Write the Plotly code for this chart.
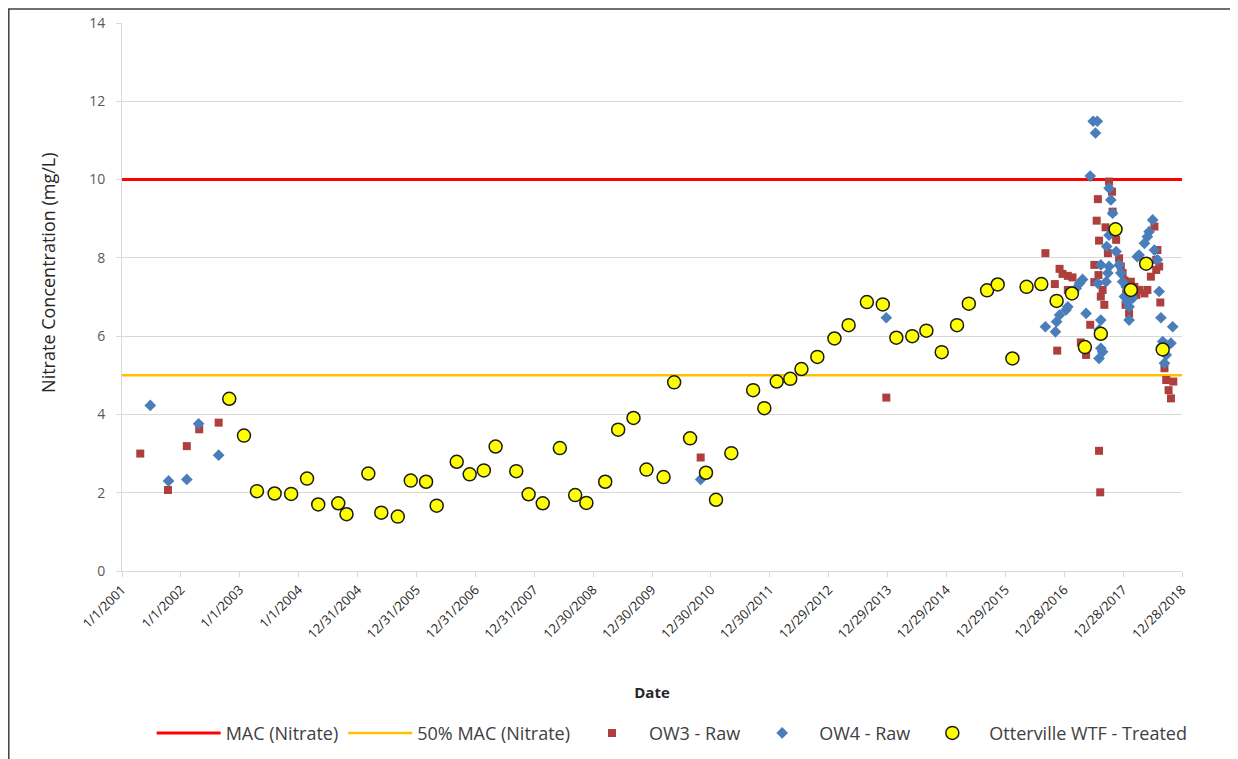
import pandas as pd
import plotly.graph_objects as go

# ---------------- data ----------------
MAC_VALUE = 10.0
HALF_MAC_VALUE = 5.0

tick_dates = ["2001-01-01", "2002-01-01", "2003-01-01", "2004-01-01", "2004-12-31",
              "2005-12-31", "2006-12-31", "2007-12-31", "2008-12-30", "2009-12-30",
              "2010-12-30", "2011-12-30", "2012-12-29", "2013-12-29", "2014-12-29",
              "2015-12-29", "2016-12-28", "2017-12-28", "2018-12-28"]
tick_labels = ["1/1/2001", "1/1/2002", "1/1/2003", "1/1/2004", "12/31/2004",
               "12/31/2005", "12/31/2006", "12/31/2007", "12/30/2008", "12/30/2009",
               "12/30/2010", "12/30/2011", "12/29/2012", "12/29/2013", "12/29/2014",
               "12/29/2015", "12/28/2016", "12/28/2017", "12/28/2018"]

# sample times as decimal years
ow3_year = [2001.31, 2001.78, 2002.10, 2002.31, 2002.64, 2010.82, 2013.97,
            2016.67, 2016.83, 2016.87, 2016.91, 2016.96, 2017.05, 2017.13, 2017.05,
            2017.27, 2017.36, 2017.43, 2017.50, 2017.50, 2017.54, 2017.56, 2017.58,
            2017.58, 2017.60, 2017.61, 2017.64, 2017.57, 2017.67, 2017.69, 2017.73,
            2017.75, 2017.80, 2017.81, 2017.87, 2017.92, 2017.95, 2017.98, 2018.01,
            2018.03, 2018.04, 2018.09, 2018.12, 2018.18, 2018.21, 2018.26, 2018.35,
            2018.40, 2018.46, 2018.52, 2018.55, 2018.55, 2018.57, 2018.60, 2018.62,
            2018.69, 2018.72, 2018.76, 2018.80, 2018.84]
ow3_value = [3.00, 2.07, 3.19, 3.62, 3.79, 2.90, 4.43,
             8.12, 7.33, 5.63, 7.72, 7.59, 7.54, 7.50, 7.18,
             5.84, 5.52, 6.29, 7.82, 7.38, 8.95, 9.50, 8.44,
             3.07, 2.01, 7.01, 7.18, 7.56, 6.80, 8.78, 8.12,
             9.95, 9.69, 9.18, 8.46, 7.99, 7.78, 7.61, 7.42,
             6.80, 7.09, 6.58, 7.39, 7.26, 7.05, 7.18, 7.09,
             7.18, 7.52, 8.80, 7.69, 7.95, 8.20, 7.78, 6.86,
             5.18, 4.88, 4.62, 4.41, 4.84]

ow4_year = [2001.48, 2001.79, 2002.10, 2002.30, 2002.64, 2010.82, 2013.97,
            2016.67, 2016.84, 2016.86, 2016.91, 2017.02, 2017.05, 2017.19, 2017.25,
            2017.30, 2017.36, 2017.43, 2017.48, 2017.52, 2017.55, 2017.56, 2017.58,
            2017.58, 2017.61, 2017.61, 2017.61, 2017.64, 2017.70, 2017.71, 2017.73,
            2017.75, 2017.75, 2017.75, 2017.78, 2017.81, 2017.87, 2017.92, 2017.95,
            2017.98, 2018.01, 2018.04, 2018.06, 2018.09, 2018.09, 2018.15, 2018.23,
            2018.26, 2018.35, 2018.40, 2018.43, 2018.49, 2018.52, 2018.57, 2018.60,
            2018.63, 2018.66, 2018.69, 2018.72, 2018.72, 2018.80, 2018.83]
ow4_value = [4.23, 2.30, 2.34, 3.76, 2.96, 2.34, 6.47,
             6.24, 6.11, 6.37, 6.54, 6.67, 6.75, 7.22, 7.35,
             7.45, 6.58, 10.09, 11.49, 11.19, 11.49, 7.35, 6.16,
             5.43, 7.82, 6.41, 5.69, 5.60, 7.39, 8.29, 7.61,
             9.78, 8.58, 7.78, 9.48, 9.14, 8.16, 7.82, 7.61,
             7.39, 7.01, 7.26, 6.88, 6.75, 6.41, 6.97, 8.03,
             8.07, 8.37, 8.54, 8.67, 8.97, 8.20, 7.95, 7.14,
             6.47, 5.86, 5.31, 5.77, 5.52, 5.82, 6.24]

wtf_year = [2002.82, 2003.07, 2003.29, 2003.59, 2003.87, 2004.14, 2004.33, 2004.67,
            2004.81, 2005.18, 2005.40, 2005.68, 2005.90, 2006.16, 2006.34, 2006.68,
            2006.90, 2007.14, 2007.34, 2007.69, 2007.90, 2008.14, 2008.43, 2008.69,
            2008.88, 2009.20, 2009.42, 2009.68, 2009.90, 2010.19, 2010.37, 2010.64,
            2010.91, 2011.08, 2011.34, 2011.71, 2011.90, 2012.11, 2012.34, 2012.53,
            2012.80, 2013.09, 2013.33, 2013.64, 2013.91, 2014.14, 2014.41, 2014.65,
            2014.91, 2015.17, 2015.37, 2015.68, 2015.86, 2016.11, 2016.35, 2016.60,
            2016.86, 2017.12, 2017.34, 2017.61, 2017.86, 2018.12, 2018.38, 2018.66]
wtf_value = [4.40, 3.46, 2.04, 1.98, 1.97, 2.36, 1.70, 1.73,
             1.45, 2.49, 1.49, 1.39, 2.31, 2.28, 1.67, 2.79,
             2.47, 2.57, 3.18, 2.55, 1.96, 1.73, 3.14, 1.94,
             1.74, 2.28, 3.61, 3.91, 2.59, 2.40, 4.82, 3.39,
             2.51, 1.82, 3.01, 4.62, 4.16, 4.84, 4.91, 5.16,
             5.47, 5.94, 6.28, 6.87, 6.81, 5.96, 6.00, 6.14,
             5.59, 6.28, 6.83, 7.17, 7.32, 5.43, 7.26, 7.33,
             6.90, 7.09, 5.72, 6.06, 8.73, 7.18, 7.85, 5.66]


def to_dates(years):
    base = pd.Timestamp("2001-01-01")
    return [base + pd.Timedelta(days=(y - 2001.0) * 365.25) for y in years]


x_start, x_end = tick_dates[0], tick_dates[-1]
FONT = "'Open Sans', Lato, 'Liberation Sans', sans-serif"

fig = go.Figure()
fig.add_trace(go.Scatter(x=[x_start, x_end], y=[MAC_VALUE, MAC_VALUE], mode="lines",
                         name="MAC (Nitrate)", line=dict(color="#FF0000", width=3)))
fig.add_trace(go.Scatter(x=[x_start, x_end], y=[HALF_MAC_VALUE, HALF_MAC_VALUE], mode="lines",
                         name="50% MAC (Nitrate)", line=dict(color="#FFC000", width=2.5)))
fig.add_trace(go.Scatter(x=to_dates(ow3_year), y=ow3_value, mode="markers", name="OW3 - Raw",
                         marker=dict(symbol="square", size=8, color="#AE3F3C")))
fig.add_trace(go.Scatter(x=to_dates(ow4_year), y=ow4_value, mode="markers", name="OW4 - Raw",
                         marker=dict(symbol="diamond", size=9, color="#4A7EBB")))
fig.add_trace(go.Scatter(x=to_dates(wtf_year), y=wtf_value, mode="markers",
                         name="Otterville WTF - Treated",
                         marker=dict(symbol="circle", size=13, color="#FFFF00",
                                     line=dict(color="#1a1a1a", width=1.5))))

fig.update_layout(
    width=1238, height=759,
    margin=dict(l=114, r=64, t=15, b=196),
    paper_bgcolor="white", plot_bgcolor="white",
    font=dict(family=FONT, color="#404040"),
    showlegend=True,
    legend=dict(orientation="h", x=0.519, xanchor="center", y=-0.296, yanchor="middle",
                itemwidth=64, font=dict(size=18, color="#404040"), itemclick=False),
    xaxis=dict(
        type="date", range=[x_start, x_end], automargin=False,
        tickvals=tick_dates, ticktext=tick_labels, tickangle=-45,
        tickfont=dict(size=13, color="#262626"),
        showgrid=False, showline=True, linecolor="#D9D9D9", linewidth=1,
        ticks="outside", ticklen=5, tickcolor="#D9D9D9", zeroline=False,
        title=dict(text="<b>Date</b>", font=dict(size=15, color="#262626"), standoff=46),
    ),
    yaxis=dict(
        range=[0, 14], tick0=0, dtick=2, automargin=False,
        tickfont=dict(size=14, color="#595959"),
        showgrid=True, gridcolor="#D9D9D9", gridwidth=1,
        showline=True, linecolor="#D9D9D9", linewidth=1,
        ticks="outside", ticklen=5, tickcolor="#D9D9D9", zeroline=False,
        ticklabelstandoff=8,
    ),
    annotations=[dict(text="Nitrate Concentration (mg/L)", textangle=-90,
                      xref="paper", yref="paper", x=-0.0698, y=0.544,
                      xanchor="center", yanchor="middle", showarrow=False,
                      font=dict(size=18, color="#262626"))],
    shapes=[dict(type="rect", xref="paper", yref="paper",
                 x0=-0.1068, x1=1.07, y0=-0.4, y1=1.0255,
                 line=dict(color="#404040", width=1.5), fillcolor="rgba(0,0,0,0)", layer="below")],
)

fig.write_html("out.html")
